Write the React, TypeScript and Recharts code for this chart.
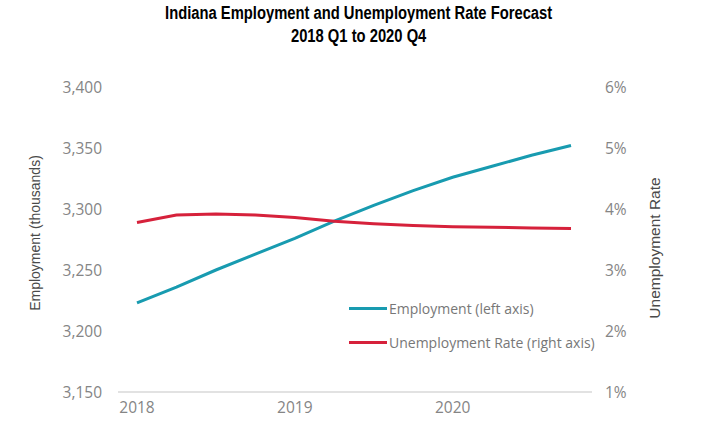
import { LineChart, Line, XAxis, YAxis, Legend } from 'recharts';

const quarters = [
  '2018 Q1', '2018 Q2', '2018 Q3', '2018 Q4',
  '2019 Q1', '2019 Q2', '2019 Q3', '2019 Q4',
  '2020 Q1', '2020 Q2', '2020 Q3', '2020 Q4',
];
const employment = [3223, 3236, 3250, 3263, 3276, 3290, 3303, 3315, 3326, 3335, 3344, 3352];
const unemploymentRate = [3.78, 3.9, 3.92, 3.9, 3.86, 3.8, 3.76, 3.73, 3.71, 3.7, 3.69, 3.68];

const yearTicks = ['2018 Q1', '2019 Q1', '2020 Q1'];
const employmentTicks = [3150, 3200, 3250, 3300, 3350, 3400];
const rateTicks = [1, 2, 3, 4, 5, 6];

const data = quarters.map((q, i) => ({
  quarter: q,
  employment: employment[i],
  rate: unemploymentRate[i],
}));

const TEAL = '#189bb0';
const RED = '#d6213b';
const tickStyle = { fontSize: 15.5, fill: '#858585', fontFamily: '"Open Sans", sans-serif' };

function ChartLegend() {
  const items = [
    { label: 'Employment (left axis)', color: TEAL },
    { label: 'Unemployment Rate (right axis)', color: RED },
  ];
  return (
    <div style={{ fontFamily: '"Open Sans", sans-serif', fontSize: 14, color: '#777' }}>
      {items.map((it) => (
        <div key={it.label} style={{ display: 'flex', alignItems: 'center', height: 34 }}>
          <span style={{ width: 38, height: 3, background: it.color, marginRight: 2 }} />
          <span>{it.label}</span>
        </div>
      ))}
    </div>
  );
}

export default function App() {
  return (
    <div style={{ position: 'absolute', left: 0, top: 0, width: 718, height: 426, background: '#fff' }}>
      {/* condensed bold title: no narrow font installed, so squeeze Liberation Sans */}
      <div
        style={{
          position: 'absolute',
          left: 0,
          top: 2,
          width: 718,
          textAlign: 'center',
          fontFamily: '"Liberation Sans", Arial, sans-serif',
          fontWeight: 'bold',
          fontSize: 18,
          lineHeight: '23px',
          color: '#000',
          transform: 'scaleX(0.82)',
          transformOrigin: '357px 0',
        }}
      >
        <div>Indiana Employment and Unemployment Rate Forecast</div>
        <div>2018 Q1 to 2020 Q4</div>
      </div>

      <div
        style={{
          position: 'absolute',
          left: 35,
          top: 233,
          transform: 'translate(-50%, -50%) rotate(-90deg)',
          whiteSpace: 'nowrap',
          fontFamily: '"Liberation Sans", Arial, sans-serif',
          fontSize: 14,
          color: '#4a4a4a',
        }}
      >
        Employment (thousands)
      </div>
      <div
        style={{
          position: 'absolute',
          left: 655,
          top: 248,
          transform: 'translate(-50%, -50%) rotate(-90deg)',
          whiteSpace: 'nowrap',
          fontFamily: '"Liberation Sans", Arial, sans-serif',
          fontSize: 15.5,
          color: '#4a4a4a',
        }}
      >
        Unemployment Rate
      </div>

      <div style={{ position: 'absolute', left: 0, top: 0 }}>
        <LineChart width={718} height={426} data={data} margin={{ top: 87, right: 0, bottom: 0, left: 0 }}>
          <XAxis
            dataKey="quarter"
            ticks={yearTicks}
            tickFormatter={(v: string) => v.slice(0, 4)}
            tick={tickStyle}
            tickLine={false}
            tickSize={0}
            tickMargin={10}
            height={34}
            padding={{ left: 19, right: 21 }}
            axisLine={{ stroke: '#d9d9d9', strokeWidth: 1.5 }}
            interval={0}
          />
          <YAxis
            yAxisId="left"
            domain={[3150, 3400]}
            ticks={employmentTicks}
            tickFormatter={(v: number) => v.toLocaleString('en-US')}
            tick={tickStyle}
            axisLine={false}
            tickLine={false}
            tickSize={0}
            tickMargin={16}
            width={118}
          />
          <YAxis
            yAxisId="right"
            orientation="right"
            domain={[1, 6]}
            ticks={rateTicks}
            tickFormatter={(v: number) => `${v}%`}
            tick={tickStyle}
            axisLine={false}
            tickLine={false}
            tickSize={0}
            tickMargin={13}
            width={126}
          />
          <Legend
            layout="vertical"
            align="center"
            verticalAlign="middle"
            content={() => <ChartLegend />}
            wrapperStyle={{ left: 349, top: 291, width: 270, height: 68 }}
          />
          <Line
            yAxisId="left"
            type="linear"
            dataKey="employment"
            stroke={TEAL}
            strokeWidth={3}
            dot={false}
            isAnimationActive={false}
          />
          <Line
            yAxisId="right"
            type="linear"
            dataKey="rate"
            stroke={RED}
            strokeWidth={3}
            dot={false}
            isAnimationActive={false}
          />
        </LineChart>
      </div>
    </div>
  );
}
